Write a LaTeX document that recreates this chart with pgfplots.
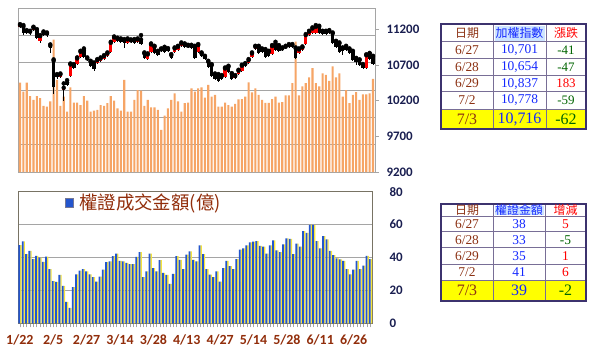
\documentclass[border=0pt]{standalone}
\usepackage{pgfplots}
\usepackage{pgfplotstable}
\pgfplotsset{compat=1.18}
\usepackage{fontspec}
\setmainfont{Liberation Serif}
\newfontfamily\cjk{Noto Sans CJK TC}
\newfontfamily\carl{Carlito}

\definecolor{orangebar}{RGB}{246,165,102}
\definecolor{gridc}{RGB}{165,165,165}
\definecolor{framec}{RGB}{120,115,100}
\definecolor{navy}{RGB}{25,30,80}
\definecolor{brownlab}{RGB}{145,45,10}
\definecolor{bluebar}{RGB}{35,85,205}
\definecolor{yellowbar}{RGB}{245,228,60}
\definecolor{candred}{RGB}{255,0,0}
\definecolor{tabborder}{RGB}{60,50,110}
\definecolor{tabline}{RGB}{120,110,150}
\definecolor{datebrown}{RGB}{140,50,20}
\definecolor{numblue}{RGB}{20,40,255}
\definecolor{grn}{RGB}{0,100,0}
\definecolor{hdrblue}{RGB}{205,228,255}
\definecolor{tabyellow}{RGB}{255,255,0}

\pgfplotstableread{
i v
0 327
1 294
2 327
3 278
4 264
5 278
6 270
7 242
8 239
9 258
10 484
11 337
12 242
13 276
14 221
15 310
16 254
17 254
18 245
19 278
20 261
21 221
22 225
23 227
24 245
25 242
26 252
27 278
28 261
29 233
30 225
31 337
32 221
33 221
34 264
35 300
36 298
37 242
38 264
39 236
40 236
41 227
42 154
43 206
44 233
45 264
46 288
47 258
48 221
49 252
50 254
51 306
52 294
53 306
54 310
55 272
56 319
57 276
58 282
59 239
60 239
61 254
62 245
63 239
64 249
65 266
66 267
67 276
68 328
69 291
70 306
71 282
72 264
73 253
74 253
75 267
76 276
77 254
78 256
79 280
80 280
81 325
82 477
83 280
84 313
85 325
86 346
87 380
88 325
89 313
90 361
91 355
92 333
93 386
94 346
95 361
96 276
97 300
98 252
99 282
100 292
101 264
102 284
103 284
104 288
105 341
}\volA

\pgfplotstableread{
i t b hi lo
0 11260 11232 11274 11218
4 11223 11195 11237 11181
6 11106 11036 11120 11012
12 10568 10535 10582 10517
13 10381 10348 10442 10199
15 10708 10549 10722 10535
17 10793 10713 10807 10699
18 10886 10816 10900 10802
20 10793 10774 10807 10760
23 10769 10722 10783 10708
24 10793 10760 10807 10746
25 10825 10788 10839 10774
26 10863 10825 10877 10811
27 11012 10886 11026 10872
28 11087 11017 11101 11003
32 11059 11012 11073 10998
35 11059 11022 11073 11008
38 10849 10779 10863 10764
39 10989 10886 11003 10872
42 10919 10895 10933 10881
46 10933 10886 10947 10872
47 10956 10910 10970 10895
48 11003 10970 11017 10956
53 10980 10877 10994 10863
61 10652 10535 10666 10521
64 10545 10517 10559 10503
65 10620 10573 10634 10559
66 10690 10620 10704 10605
67 10713 10685 10727 10671
68 10769 10722 10783 10708
69 10863 10807 10877 10793
70 10956 10928 10970 10914
75 10966 10849 10980 10835
78 10933 10910 10947 10895
79 10956 10933 10970 10919
80 10980 10956 10994 10942
83 10919 10863 10933 10849
84 10947 10910 10961 10895
85 11120 10989 11134 10975
86 11167 11120 11181 11106
87 11213 11143 11228 11129
88 11237 11143 11260 11129
92 11176 11143 11190 11129
103 10837 10652 10850 10640
}\redc

\pgfplotstableread{
i t b hi lo
1 11237 11153 11260 11120
2 11176 11153 11190 11134
3 11167 11143 11181 11125
5 11190 11073 11204 11059
7 11157 11120 11171 11106
8 11143 11115 11157 11097
9 10970 10933 10989 10863
10 10760 10386 10779 10292
11 10559 10526 10573 10507
14 10451 10423 10488 10404
16 10699 10652 10713 10638
19 10910 10807 10933 10793
21 10746 10690 10760 10676
22 10722 10638 10736 10620
29 11068 11031 11083 11017
30 11059 11022 11073 11008
31 11050 11003 11064 10933
33 11045 11017 11059 11003
34 11050 11003 11064 10989
36 11059 10994 11120 10980
37 10863 10802 10877 10788
40 10956 10863 10970 10849
41 10886 10839 10900 10825
43 10942 10886 10956 10872
44 10924 10895 10938 10881
45 10839 10793 10853 10779
49 10989 10956 11003 10942
50 10970 10952 10984 10938
51 10970 10942 10984 10928
52 10956 10802 10970 10788
54 10863 10825 10877 10811
55 10816 10779 10830 10764
56 10746 10676 10760 10662
57 10699 10545 10713 10531
58 10568 10507 10582 10493
59 10559 10479 10573 10465
60 10545 10507 10559 10493
62 10676 10605 10690 10591
63 10573 10498 10587 10484
71 10956 10863 10970 10849
72 10919 10881 10933 10867
73 10910 10816 10924 10802
74 10886 10825 10900 10811
76 10994 10910 11026 10895
77 10966 10900 10980 10886
81 10980 10947 10994 10933
82 10933 10802 10947 10788
89 11237 11143 11251 11129
90 11167 11134 11181 11120
91 11167 11129 11181 11115
93 11143 11003 11157 10989
94 11026 10956 11040 10942
95 11003 10886 11017 10872
96 10933 10895 10947 10839
97 10956 10910 10970 10895
98 10919 10872 10933 10858
99 10886 10769 10900 10755
100 10790 10742 10800 10700
101 10770 10701 10780 10690
102 10700 10654 10715 10640
104 10860 10778 10870 10770
105 10816 10716 10830 10700
}\blackc

\pgfplotstableread{
i w
0 47.6
1 49.8
2 42
3 44
4 39
5 41
6 40
7 37.4
8 40.6
9 33
10 25.6
11 25.2
12 29.4
13 22.8
14 13
15 9.4
16 22
17 29.8
18 32
19 33
20 31.6
21 29.8
22 28
23 25.4
24 28.4
25 32.6
26 37.2
27 37.6
28 40.8
29 42.4
30 38
31 37.6
32 36.8
33 36
34 36
35 40.4
36 43.2
37 28
38 31.6
39 42.4
40 33.6
41 31.6
42 38.4
43 30.6
44 29.4
45 24
46 30
47 40.8
48 38.6
49 33
50 41.8
51 43.8
52 38.6
53 37.6
54 47.4
55 42
56 33
57 29.6
58 28
59 31.6
60 25.4
61 33.6
62 38
63 34.8
64 33
65 39
66 44.8
67 45.6
68 47.4
69 49.2
70 49.6
71 50
72 47
73 46.6
74 42.4
75 47.4
76 50.4
77 44.4
78 43.2
79 48
80 51.6
81 51.4
82 42
83 48.4
84 46.6
85 56
86 55
87 59.8
88 59.8
89 50
90 45.5
91 53
92 51
93 44
94 41.4
95 39.4
96 38.8
97 38
98 33
99 29.7
100 32.7
101 38
102 33
103 35
104 41
105 39
}\warr

\begin{document}
\begin{tikzpicture}
\path[use as bounding box] (0,0) rectangle (598bp,-362bp);

% ---------- top: volume bars ----------
\begin{axis}[
  at={(18bp,-172bp)}, anchor=south west, scale only axis,
  width=357bp, height=164bp,
  xmin=-0.6, xmax=105.6, ymin=0, ymax=600,
  xtick=\empty, ytick={100,200,300,400,500}, yticklabels={},
  major tick length=0pt,
  ymajorgrids, grid style={gridc, line width=0.8bp},
  axis line style={gridc, line width=0.8bp},
]
\addplot[ybar, bar width=2.1bp, fill=orangebar, draw=none] table[x=i,y=v] {\volA};
\end{axis}

% ---------- top: index candles ----------
\begin{axis}[
  at={(18bp,-172bp)}, anchor=south west, scale only axis,
  width=357bp, height=164bp,
  xmin=-0.6, xmax=105.6, ymin=9200, ymax=11500,
  axis x line=none, axis y line*=right,
  scaled y ticks=false,
  ytick={9200,9700,10200,10700,11200},
  yticklabels={\hbox{9200},\hbox{9700},\hbox{10200},\hbox{10700},\hbox{11200}},
  tick align=outside, major tick length=4bp,
  tick style={gridc, line width=0.8bp},
  axis line style={gridc, line width=0.8bp},
  yticklabel style={font=\carl\bfseries\fontsize{13}{13}\selectfont, text=navy, xshift=4bp},
]
\addplot[only marks, mark=none, forget plot, error bars/.cd, y dir=minus, y explicit, error mark=none,
  error bar style={draw=black, line width=0.8bp}]
  table[x=i, y=hi, y error minus expr=\thisrow{hi}-\thisrow{lo}] {\redc};
\addplot[only marks, mark=none, forget plot, error bars/.cd, y dir=minus, y explicit, error mark=none,
  error bar style={draw=black, line width=0.8bp}]
  table[x=i, y=hi, y error minus expr=\thisrow{hi}-\thisrow{lo}] {\blackc};
\addplot[only marks, mark=none, forget plot, error bars/.cd, y dir=minus, y explicit, error mark=none,
  error bar style={draw=candred, line width=3.4bp}]
  table[x=i, y=t, y error minus expr=\thisrow{t}-\thisrow{b}] {\redc};
\addplot[only marks, mark=none, forget plot, error bars/.cd, y dir=minus, y explicit, error mark=none,
  error bar style={draw=black, line width=3.4bp}]
  table[x=i, y=t, y error minus expr=\thisrow{t}-\thisrow{b}] {\blackc};
\end{axis}

% ---------- bottom: warrant turnover ----------
\begin{axis}[
  at={(18bp,-323.3bp)}, anchor=south west, scale only axis,
  width=354bp, height=131.6bp,
  xmin=-0.55, xmax=105.5, ymin=0, ymax=80,
  scaled y ticks=false,
  ytick={0,20,40,60,80}, yticklabel pos=right,
  yticklabels={\hbox{0},\hbox{20},\hbox{40},\hbox{60},\hbox{80}},
  ymajorgrids, grid style={gridc, line width=0.8bp},
  axis line style={framec, line width=0.9bp},
  xtick={0,10,...,100},
  xticklabels={\hbox{1/22},\hbox{2/5},\hbox{2/27},\hbox{3/14},\hbox{3/28},\hbox{4/13},\hbox{4/27},\hbox{5/14},\hbox{5/28},\hbox{6/11},\hbox{6/26}},
  minor xtick={0,...,105},
  xtick pos=left, tick align=outside,
  major tick length=4bp, minor tick length=4bp,
  tick style={gridc, line width=0.5bp},
  every y tick/.style={draw=none},
  xticklabel style={font=\carl\bfseries\fontsize{14}{14}\selectfont, text=brownlab, yshift=-4bp},
  yticklabel style={font=\carl\bfseries\fontsize{13}{13}\selectfont, text=navy, xshift=10bp},
]
\addplot[ybar, bar width=1.4bp, bar shift=1.1bp, fill=yellowbar, draw=none] table[x=i,y=w] {\warr};
\addplot[ybar, bar width=1.8bp, bar shift=-0.5bp, fill=bluebar, draw=none] table[x=i,y=w] {\warr};
\end{axis}

% ---------- legend and tables ----------
\begin{scope}[x=1bp, y=-1bp]
  \fill[bluebar] (65,198.5) rectangle (73.5,207);
  \draw[navy!60, line width=0.5bp] (65,198.5) rectangle (73.5,207);
  \node[anchor=west, inner sep=0, text=brownlab, font=\cjk\fontsize{18.5}{18.5}\selectfont] at (79,203) {權證成交金額(億)};

  % table 1
  \fill[hdrblue] (494.5,25.5) rectangle (544.5,40.5);
  \fill[tabyellow] (441,109) rectangle (586,129);
  \foreach \yy in {41.7,58.3,75.5,91.7,109} \draw[tabline, line width=0.8bp] (441,\yy) -- (586,\yy);
  \foreach \xx in {493,546} \draw[tabline, line width=0.8bp] (\xx,24) -- (\xx,129);
  \draw[tabborder, line width=1.8bp] (441,24) rectangle (586,129);
  \node[text=datebrown, font=\cjk\fontsize{12}{12}\selectfont] at (467,33) {日期};
  \node[text=numblue, font=\cjk\fontsize{12}{12}\selectfont] at (519.5,33) {加權指數};
  \node[text=candred, font=\cjk\fontsize{12}{12}\selectfont] at (566,33) {漲跌};
  \node[text=datebrown, font=\fontsize{13.5}{13.5}\selectfont] at (467,50) {6/27};
  \node[text=numblue, font=\fontsize{13.5}{13.5}\selectfont] at (519.5,50) {10,701};
  \node[text=grn, font=\fontsize{13}{13}\selectfont] at (566,50) {-41};
  \node[text=datebrown, font=\fontsize{13.5}{13.5}\selectfont] at (467,67) {6/28};
  \node[text=numblue, font=\fontsize{13.5}{13.5}\selectfont] at (519.5,67) {10,654};
  \node[text=grn, font=\fontsize{13}{13}\selectfont] at (566,67) {-47};
  \node[text=datebrown, font=\fontsize{13.5}{13.5}\selectfont] at (467,83.6) {6/29};
  \node[text=numblue, font=\fontsize{13.5}{13.5}\selectfont] at (519.5,83.6) {10,837};
  \node[text=candred, font=\fontsize{13}{13}\selectfont] at (566,83.6) {183};
  \node[text=datebrown, font=\fontsize{13.5}{13.5}\selectfont] at (467,100.3) {7/2};
  \node[text=numblue, font=\fontsize{13.5}{13.5}\selectfont] at (519.5,100.3) {10,778};
  \node[text=grn, font=\fontsize{13}{13}\selectfont] at (566,100.3) {-59};
  \node[text=datebrown, font=\fontsize{16}{16}\selectfont] at (467,119) {7/3};
  \node[text=numblue, font=\fontsize{16}{16}\selectfont] at (519.5,119) {10,716};
  \node[text=grn, font=\fontsize{16}{16}\selectfont] at (566,119) {-62};

  % table 2
  \fill[hdrblue] (494.5,205.5) rectangle (543.5,215);
  \fill[tabyellow] (441,280) rectangle (586,301);
  \foreach \yy in {216,231.7,247.7,264,280} \draw[tabline, line width=0.8bp] (441,\yy) -- (586,\yy);
  \foreach \xx in {493,545} \draw[tabline, line width=0.8bp] (\xx,204) -- (\xx,301);
  \draw[tabborder, line width=1.8bp] (441,204) rectangle (586,301);
  \node[text=datebrown, font=\cjk\fontsize{12}{12}\selectfont] at (467,210) {日期};
  \node[text=numblue, font=\cjk\fontsize{12}{12}\selectfont] at (519,210) {權證金額};
  \node[text=candred, font=\cjk\fontsize{12}{12}\selectfont] at (565.5,210) {增減};
  \node[text=datebrown, font=\fontsize{13.5}{13.5}\selectfont] at (467,224) {6/27};
  \node[text=numblue, font=\fontsize{13.5}{13.5}\selectfont] at (519,224) {38};
  \node[text=candred, font=\fontsize{13.5}{13.5}\selectfont] at (565.5,224) {5};
  \node[text=datebrown, font=\fontsize{13.5}{13.5}\selectfont] at (467,239.7) {6/28};
  \node[text=numblue, font=\fontsize{13.5}{13.5}\selectfont] at (519,239.7) {33};
  \node[text=grn, font=\fontsize{13.5}{13.5}\selectfont] at (565.5,239.7) {-5};
  \node[text=datebrown, font=\fontsize{13.5}{13.5}\selectfont] at (467,255.8) {6/29};
  \node[text=numblue, font=\fontsize{13.5}{13.5}\selectfont] at (519,255.8) {35};
  \node[text=candred, font=\fontsize{13.5}{13.5}\selectfont] at (565.5,255.8) {1};
  \node[text=datebrown, font=\fontsize{13.5}{13.5}\selectfont] at (467,272) {7/2};
  \node[text=numblue, font=\fontsize{13.5}{13.5}\selectfont] at (519,272) {41};
  \node[text=candred, font=\fontsize{13.5}{13.5}\selectfont] at (565.5,272) {6};
  \node[text=datebrown, font=\fontsize{16}{16}\selectfont] at (467,290.5) {7/3};
  \node[text=numblue, font=\fontsize{16}{16}\selectfont] at (519,290.5) {39};
  \node[text=grn, font=\fontsize{16}{16}\selectfont] at (565.5,290.5) {-2};
\end{scope}
\end{tikzpicture}
\end{document}
